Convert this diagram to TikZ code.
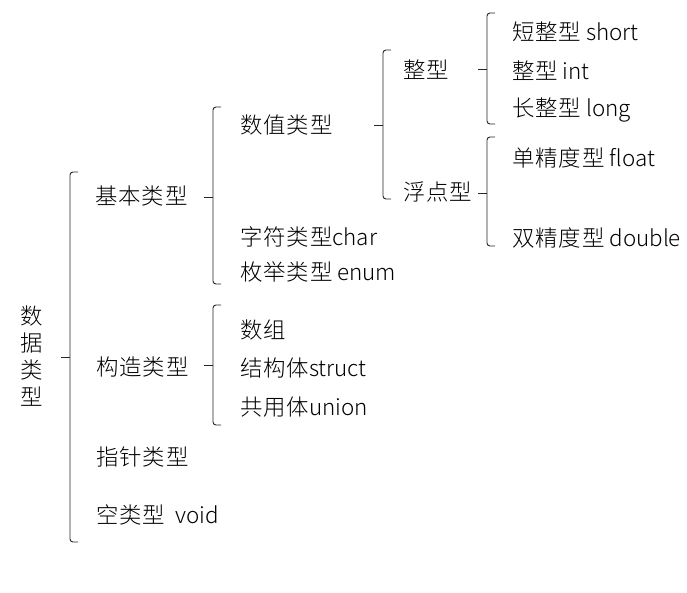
\documentclass[tikz,border=0pt]{standalone}
\usepackage{fontspec}
\setmainfont{Noto Sans CJK SC}[UprightFont={* Light},LetterSpace=4]
\newfontfamily\latf{Noto Sans CJK SC}[UprightFont={* Light}]
\newcommand\lt[1]{{\latf #1}}
\begin{document}
\begin{tikzpicture}[x=1pt,y=-1pt,
  lbl/.style={anchor=west,inner sep=0pt,font=\fontsize{22.4}{24}\selectfont,text height=18pt,text depth=2pt},
  brc/.style={line width=0.9pt,black!85,rounded corners=3pt},
  stub/.style={line width=0.9pt,black!85}]
\useasboundingbox (0,0) rectangle (687,592);
% brace macro: x, top, bottom, tip y
\newcommand\mybrace[4]{%
  \draw[brc] (#1+8,#2) -- (#1,#2) -- (#1,#3) -- (#1+8,#3);
  \draw[stub] (#1,#4) -- (#1-9,#4);}
% root
\node[inner sep=0pt,font=\fontsize{22.4}{24}\selectfont,align=center] (root) at (32,356)
  {数\\[3pt]据\\[3pt]类\\[3pt]型};
% level 1
\node[lbl] (jb) at (95,196) {基本类型};
\node[lbl] (gz) at (96,367) {构造类型};
\node[lbl] (zz) at (96,457) {指针类型};
\node[lbl] (kl) at (96,515) {空类型\lt{\ \ void}};
% level 2 under 基本类型
\node[lbl] (sz) at (240,125) {数值类型};
\node[lbl] (zf) at (240,237) {字符类型\lt{char}};
\node[lbl] (mj) at (240,272) {枚举类型\lt{ enum}};
% level 2 under 构造类型
\node[lbl] (sg) at (240,330) {数组};
\node[lbl] (jg) at (240,368) {结构体\lt{struct}};
\node[lbl] (gy) at (240,407) {共用体\lt{union}};
% level 3
\node[lbl] (zx) at (403,70) {整型};
\node[lbl] (fd) at (403,192) {浮点型};
% level 4
\node[lbl] (sh) at (512,32) {短整型\lt{ short}};
\node[lbl] (in) at (512,71) {整型\lt{ int}};
\node[lbl] (lo) at (512,108) {长整型\lt{ long}};
\node[lbl] (fl) at (512,158) {单精度型\lt{ float}};
\node[lbl] (db) at (512,238) {双精度型\lt{ double}};
% braces
\mybrace{70}{172}{542}{357}
\mybrace{213}{107}{284}{197}
\mybrace{213}{305}{425}{365}
\mybrace{383}{50}{199}{125}
\mybrace{487}{13}{124}{69}
\mybrace{487}{137}{246}{193}
\end{tikzpicture}
\end{document}
